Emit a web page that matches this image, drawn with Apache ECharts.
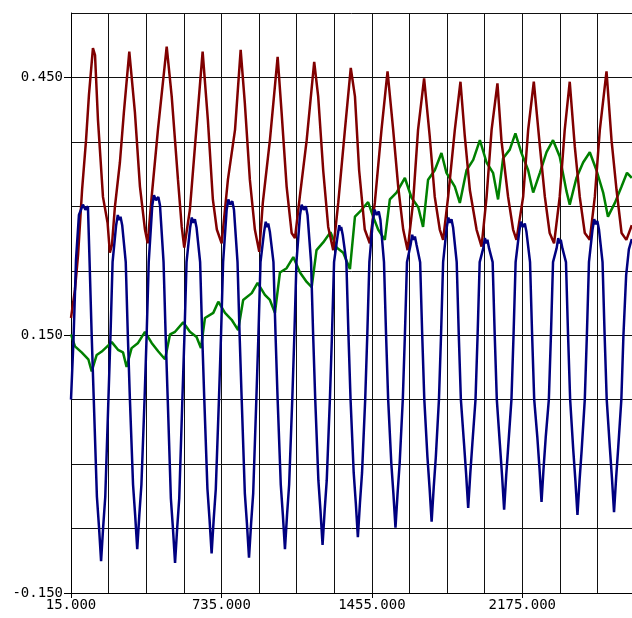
<!DOCTYPE html>
<html>
<head>
<meta charset="utf-8">
<script src="https://cdn.jsdelivr.net/npm/echarts@6/dist/echarts.min.js"></script>
<style>
html,body{margin:0;padding:0;background:#fff;}
#chart{width:632px;height:618px;}
</style>
</head>
<body>
<div id="chart"></div>
<script>
// tick labels
const xTickLabels = [15, 735, 1455, 2175];
const yTickLabels = [-0.15, 0.15, 0.45];

// series values [x, y]
const redSeries = [
[15,0.170],[34,0.203],[49,0.244],[68,0.319],[87,0.377],[101,0.430],[120,0.484],[130,0.476],[144,0.401],[168,0.311],[190,0.281],[201,0.246],[211,0.255],[225,0.299],[249,0.351],[268,0.409],[294,0.480],[321,0.409],[345,0.323],[369,0.273],[382,0.257],[401,0.311],[431,0.389],[473,0.486],[497,0.428],[527,0.331],[545,0.276],[557,0.252],[584,0.296],[608,0.369],[645,0.480],[670,0.401],[694,0.308],[713,0.273],[736,0.257],[766,0.331],[800,0.389],[827,0.482],[847,0.420],[871,0.331],[895,0.273],[916,0.247],[933,0.304],[967,0.377],[1004,0.474],[1023,0.409],[1047,0.323],[1071,0.269],[1087,0.263],[1110,0.311],[1143,0.377],[1179,0.468],[1198,0.428],[1222,0.342],[1246,0.276],[1270,0.249],[1294,0.304],[1326,0.389],[1354,0.461],[1374,0.428],[1394,0.342],[1421,0.273],[1445,0.257],[1469,0.304],[1501,0.389],[1530,0.457],[1557,0.389],[1581,0.323],[1605,0.273],[1626,0.249],[1652,0.304],[1676,0.389],[1705,0.449],[1732,0.381],[1756,0.311],[1780,0.273],[1796,0.261],[1820,0.311],[1852,0.389],[1879,0.445],[1900,0.381],[1924,0.319],[1956,0.273],[1980,0.253],[2004,0.311],[2028,0.389],[2056,0.443],[2075,0.377],[2107,0.311],[2131,0.273],[2147,0.261],[2179,0.311],[2203,0.389],[2230,0.445],[2259,0.370],[2283,0.311],[2306,0.269],[2327,0.257],[2354,0.311],[2378,0.389],[2402,0.445],[2426,0.370],[2450,0.311],[2474,0.269],[2498,0.261],[2522,0.311],[2546,0.389],[2578,0.457],[2602,0.377],[2626,0.319],[2650,0.269],[2673,0.261],[2699,0.278]
];

const greenSeries = [
[15,0.151],[34,0.137],[66,0.130],[98,0.122],[114,0.108],[138,0.127],[162,0.131],[210,0.142],[240,0.133],[264,0.130],[281,0.113],[305,0.135],[336,0.141],[369,0.154],[401,0.141],[433,0.131],[465,0.122],[489,0.151],[513,0.154],[552,0.165],[584,0.154],[616,0.148],[637,0.135],[656,0.170],[696,0.176],[720,0.189],[752,0.176],[784,0.168],[815,0.156],[839,0.191],[880,0.199],[908,0.211],[943,0.197],[967,0.191],[991,0.176],[1015,0.223],[1047,0.228],[1079,0.241],[1111,0.223],[1143,0.212],[1167,0.206],[1190,0.249],[1222,0.258],[1257,0.270],[1286,0.252],[1318,0.246],[1350,0.227],[1374,0.288],[1406,0.296],[1437,0.305],[1461,0.288],[1485,0.273],[1517,0.261],[1541,0.308],[1573,0.316],[1613,0.333],[1645,0.310],[1677,0.299],[1700,0.276],[1724,0.331],[1756,0.342],[1788,0.362],[1812,0.339],[1852,0.323],[1876,0.304],[1908,0.342],[1940,0.354],[1972,0.377],[2004,0.351],[2035,0.339],[2059,0.308],[2083,0.356],[2115,0.366],[2142,0.385],[2171,0.362],[2203,0.342],[2227,0.316],[2259,0.339],[2291,0.363],[2322,0.377],[2354,0.358],[2386,0.318],[2402,0.302],[2434,0.333],[2466,0.351],[2498,0.363],[2530,0.342],[2562,0.316],[2585,0.288],[2618,0.304],[2650,0.323],[2676,0.339],[2699,0.333]
];

const blueSeries = [
[15,0.075],[27,0.145],[39,0.238],[53,0.290],[72,0.302],[84,0.296],[96,0.300],
[104,0.235],[114,0.150],[124,0.075],[139,-0.038],[149,-0.073],[159,-0.113],
[169,-0.073],[179,-0.038],[194,0.075],[204,0.150],[214,0.235],[231,0.278],[239,0.290],[245,0.284],[252,0.288],[260,0.278],
[277,0.235],[287,0.150],[297,0.075],[312,-0.024],[322,-0.059],[332,-0.099],
[342,-0.059],[352,-0.024],[367,0.075],[377,0.150],[387,0.235],[404,0.301],[412,0.313],[422,0.307],[433,0.311],[441,0.301],
[458,0.235],[468,0.150],[478,0.075],[493,-0.040],[503,-0.075],[513,-0.115],
[523,-0.075],[533,-0.040],[548,0.075],[558,0.150],[568,0.235],[585,0.275],[593,0.287],[600,0.281],[608,0.285],[616,0.275],
[633,0.235],[643,0.150],[653,0.075],[668,-0.029],[678,-0.064],[688,-0.104],
[698,-0.064],[708,-0.029],[723,0.075],[733,0.150],[743,0.235],[760,0.296],[768,0.308],[777,0.302],[787,0.306],[795,0.296],
[812,0.235],[822,0.150],[832,0.075],[847,-0.034],[857,-0.069],[867,-0.109],
[877,-0.069],[887,-0.034],[902,0.075],[912,0.150],[922,0.235],[939,0.270],[947,0.282],[953,0.276],[959,0.280],[967,0.270],
[984,0.235],[994,0.150],[1004,0.075],[1019,-0.024],[1029,-0.059],[1039,-0.099],
[1049,-0.059],[1059,-0.024],[1074,0.075],[1084,0.150],[1094,0.235],[1111,0.290],[1119,0.302],[1129,0.296],[1139,0.300],[1147,0.290],
[1164,0.235],[1174,0.150],[1184,0.075],[1199,-0.019],[1209,-0.054],[1219,-0.094],
[1229,-0.054],[1239,-0.019],[1254,0.075],[1264,0.150],[1274,0.235],[1291,0.266],[1299,0.278],[1304,0.272],[1308,0.276],[1316,0.266],
[1333,0.235],[1343,0.150],[1353,0.075],[1368,-0.010],[1378,-0.045],[1388,-0.085],
[1398,-0.045],[1408,-0.010],[1423,0.075],[1433,0.150],[1443,0.235],[1460,0.284],[1468,0.296],[1478,0.290],[1488,0.294],[1496,0.284],
[1513,0.235],[1523,0.150],[1533,0.075],[1548,0.001],[1558,-0.034],[1568,-0.074],
[1578,-0.034],[1588,0.001],[1603,0.075],[1613,0.150],[1623,0.235],[1640,0.255],[1648,0.267],[1654,0.261],[1661,0.265],[1669,0.255],
[1686,0.235],[1696,0.150],[1706,0.075],[1721,0.008],[1731,-0.027],[1741,-0.067],
[1751,-0.027],[1761,0.008],[1776,0.075],[1786,0.150],[1796,0.235],[1813,0.275],[1821,0.287],[1828,0.281],[1836,0.285],[1844,0.275],
[1861,0.235],[1871,0.150],[1881,0.075],[1896,0.024],[1906,-0.011],[1916,-0.051],
[1926,-0.011],[1936,0.024],[1951,0.075],[1961,0.150],[1971,0.235],[1988,0.251],[1996,0.263],[2002,0.257],[2008,0.261],[2016,0.251],
[2033,0.235],[2043,0.150],[2053,0.075],[2068,0.022],[2078,-0.013],[2088,-0.053],
[2098,-0.013],[2108,0.022],[2123,0.075],[2133,0.150],[2143,0.235],[2160,0.270],[2168,0.282],[2178,0.276],[2187,0.280],[2195,0.270],
[2212,0.235],[2222,0.150],[2232,0.075],[2247,0.031],[2257,-0.004],[2267,-0.044],
[2277,-0.004],[2287,0.031],[2302,0.075],[2312,0.150],[2322,0.235],[2339,0.251],[2347,0.263],[2353,0.257],[2359,0.261],[2367,0.251],
[2384,0.235],[2394,0.150],[2404,0.075],[2419,0.016],[2429,-0.019],[2439,-0.059],
[2449,-0.019],[2459,0.016],[2474,0.075],[2484,0.150],[2494,0.235],[2511,0.273],[2519,0.285],[2527,0.279],[2534,0.283],[2542,0.273],
[2559,0.235],[2569,0.150],[2579,0.075],[2594,0.019],[2604,-0.016],[2614,-0.056],
[2624,-0.016],[2634,0.019],[2649,0.075],[2659,0.150],[2672,0.220],[2685,0.250],[2699,0.262]
];

const X_MIN = 15, X_MAX = 2700, X_STEP = 180;
const Y_MIN = -0.15, Y_MAX = 0.525, Y_STEP = 0.075;

const labelFont = {fontFamily: 'DejaVu Sans Mono', fontSize: 14, color: '#000'};
const fmt = v => Number(v).toFixed(3);

const chart = echarts.init(document.getElementById('chart'), null, {renderer: 'canvas'});
chart.setOption({
  animation: false,
  backgroundColor: '#ffffff',
  grid: {left: 71, top: 13, right: 0, bottom: 25, containLabel: false},
  xAxis: [
    {
      type: 'value', position: 'bottom', min: X_MIN, max: X_MAX, interval: X_STEP,
      axisLine: {show: true, onZero: false, lineStyle: {color: '#000', width: 1}},
      axisTick: {show: false},
      axisLabel: {show: false},
      splitLine: {show: true, lineStyle: {color: '#111', width: 1}}
    },
    {
      type: 'value', position: 'bottom', min: X_MIN, max: X_MAX,
      axisLine: {show: false, onZero: false},
      axisTick: {show: true, customValues: xTickLabels, length: 5, lineStyle: {color: '#000', width: 1}},
      axisLabel: Object.assign({show: true, customValues: xTickLabels, formatter: fmt, margin: 5}, labelFont),
      splitLine: {show: false}
    }
  ],
  yAxis: [
    {
      type: 'value', position: 'left', min: Y_MIN, max: Y_MAX, interval: Y_STEP,
      axisLine: {show: true, onZero: false, lineStyle: {color: '#000', width: 1}},
      axisTick: {show: false},
      axisLabel: {show: false},
      splitLine: {show: true, lineStyle: {color: '#111', width: 1}}
    },
    {
      type: 'value', position: 'left', min: Y_MIN, max: Y_MAX,
      axisLine: {show: false, onZero: false},
      axisTick: {show: true, customValues: yTickLabels, length: 7, lineStyle: {color: '#000', width: 1}},
      axisLabel: Object.assign({show: true, customValues: yTickLabels, formatter: fmt, margin: 8}, labelFont),
      splitLine: {show: false}
    }
  ],
  series: [
    {type: 'line', data: greenSeries, xAxisIndex: 0, yAxisIndex: 0, showSymbol: false, lineStyle: {color: '#008000', width: 2.5}, itemStyle: {color: '#008000'}},
    {type: 'line', data: redSeries, xAxisIndex: 0, yAxisIndex: 0, showSymbol: false, lineStyle: {color: '#800000', width: 2.5}, itemStyle: {color: '#800000'}},
    {type: 'line', data: blueSeries, xAxisIndex: 0, yAxisIndex: 0, showSymbol: false, lineStyle: {color: '#000080', width: 2.5}, itemStyle: {color: '#000080'}}
  ]
});
</script>
</body>
</html>
